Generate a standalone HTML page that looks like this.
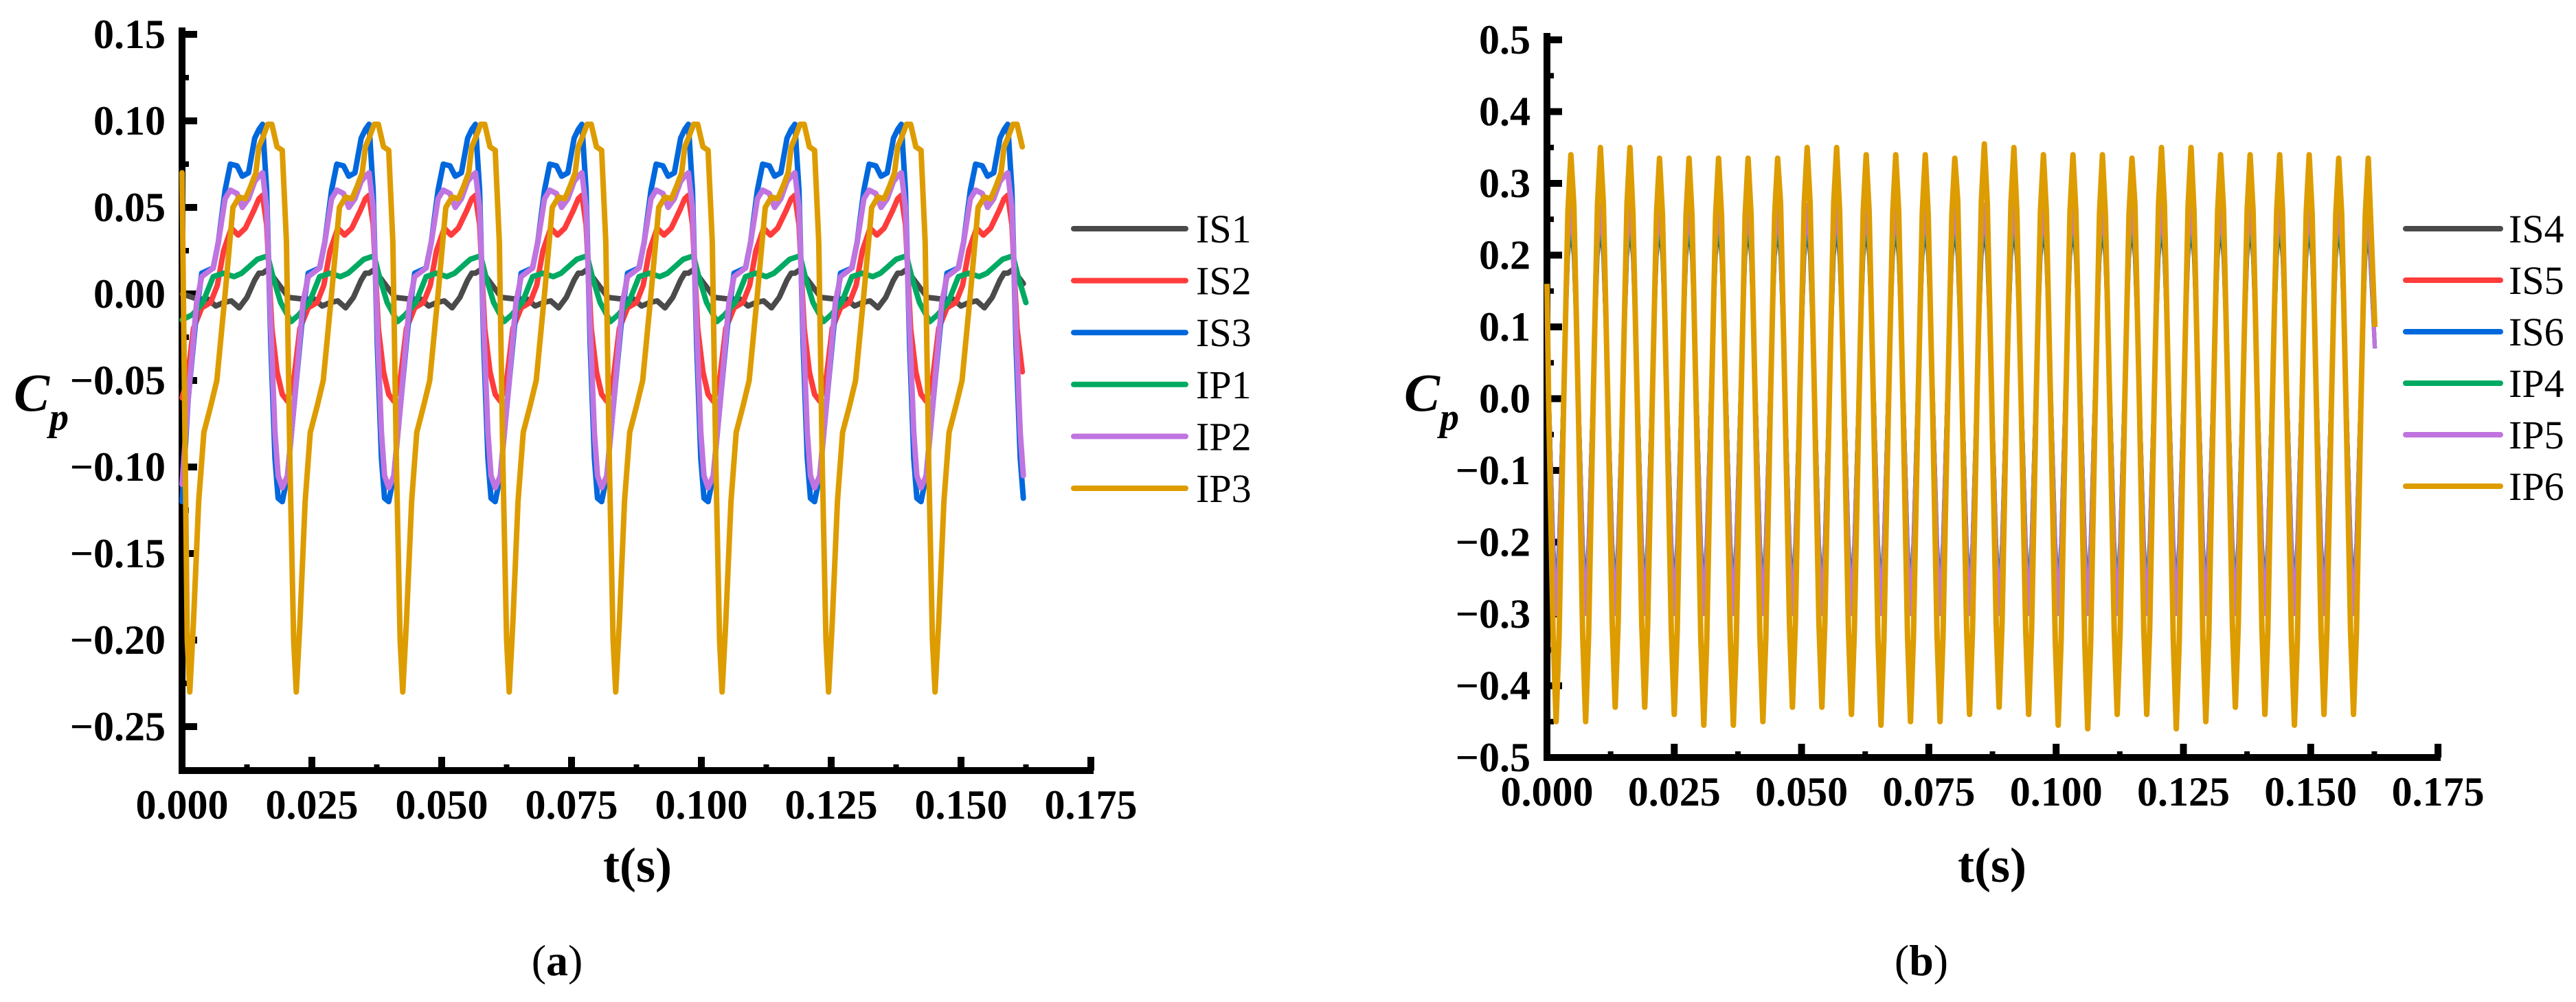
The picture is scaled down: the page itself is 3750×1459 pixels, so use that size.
<!DOCTYPE html>
<html><head><meta charset="utf-8"><style>
html,body{margin:0;padding:0;background:#fff;}
svg{display:block;}
text{font-family:"Liberation Serif",serif;fill:#000;}
.tk{font-weight:bold;font-size:60px;}
.lg{font-size:58px;}
</style></head><body>
<svg id="fig" width="3750" height="1459" viewBox="0 0 3750 1459" xmlns="http://www.w3.org/2000/svg">
<g id="panelA"></g>
<g id="panelB"></g>
<text x="20" y="598" font-size="78" font-weight="bold" font-style="italic">C<tspan font-size="56" dy="28">p</tspan></text>
<text x="2044" y="598" font-size="78" font-weight="bold" font-style="italic">C<tspan font-size="56" dy="28">p</tspan></text>
<text x="928" y="1284" font-size="72" font-weight="bold" text-anchor="middle">t(s)</text>
<text x="2900" y="1284" font-size="72" font-weight="bold" text-anchor="middle">t(s)</text>
<text x="811" y="1420" font-size="64" text-anchor="middle">(<tspan font-weight="bold">a</tspan>)</text>
<text x="2797" y="1420" font-size="64" text-anchor="middle">(<tspan font-weight="bold">b</tspan>)</text>
</svg>
<script>
// ---------- Panel (a) data ----------
const leftYTicks = [0.15,0.10,0.05,0.00,-0.05,-0.10,-0.15,-0.20,-0.25];
const leftYLabels = ["0.15","0.10","0.05","0.00","\u22120.05","\u22120.10","\u22120.15","\u22120.20","\u22120.25"];
const xTicks = [0,0.025,0.05,0.075,0.1,0.125,0.15,0.175];
const xLabels = ["0.000","0.025","0.050","0.075","0.100","0.125","0.150","0.175"];
const leftNames = ["IS1","IS2","IS3","IP1","IP2","IP3"];
const leftColors = ["#4a4a4a","#ff3c3c","#0068dc","#00aa62","#c074e0","#dd9c00"];
// cycle anchor times (IS3 peak) in seconds
const leftCycleAnchors = [-0.005,0.0155,0.036,0.0565,0.077,0.0975,0.118,0.1385,0.159];
const leftEnd = 0.1625;
const leftStart = [0.0,-0.06,-0.12,-0.015,-0.11,0.07];
const is1Phase = [0,0.001,0.003,0.005,0.008,0.01,0.0115,0.013,0.0145,0.016,0.0175,0.019,0.0198];
const is1Vals  = [0.012,0.014,0.006,-0.002,-0.003,-0.003,-0.007,-0.005,-0.004,-0.008,-0.002,0.008,0.012];
const is2Phase = [0,0.0008,0.0018,0.0028,0.0038,0.0048,0.006,0.0072,0.0088,0.0105,0.0118,0.013,0.0145,0.0158,0.0172,0.0188,0.0198];
const is2Vals  = [0.057,0.04,-0.02,-0.045,-0.058,-0.062,-0.05,-0.02,-0.008,-0.005,0.005,0.025,0.038,0.034,0.038,0.048,0.055];
const is3Phase = [0,0.0008,0.0016,0.0024,0.003,0.0038,0.0048,0.0062,0.0078,0.0088,0.011,0.012,0.0133,0.0143,0.0156,0.0166,0.0178,0.019,0.0198];
const is3Vals  = [0.098,0.06,-0.03,-0.095,-0.118,-0.12,-0.105,-0.06,-0.01,0.012,0.015,0.03,0.06,0.075,0.074,0.068,0.07,0.09,0.095];
const ip1Phase = [0,0.001,0.002,0.0035,0.0055,0.007,0.009,0.011,0.013,0.015,0.0165,0.018,0.0195];
const ip1Vals  = [0.021,0.022,0.01,-0.005,-0.016,-0.012,-0.005,0.01,0.012,0.01,0.012,0.016,0.02];
const ip2Phase = [0,0.0008,0.0016,0.0024,0.003,0.0038,0.0048,0.0062,0.0078,0.0088,0.011,0.012,0.0133,0.0143,0.0156,0.0166,0.0178,0.019,0.0198];
const ip2Vals  = [0.07,0.05,-0.02,-0.08,-0.105,-0.112,-0.105,-0.06,-0.005,0.01,0.015,0.03,0.055,0.06,0.058,0.05,0.055,0.065,0.068];
const ip3Phase = [0,0.001,0.0018,0.0028,0.0038,0.0046,0.0053,0.006,0.0065,0.0072,0.0082,0.0092,0.0105,0.0117,0.0133,0.0148,0.016,0.0172,0.0182,0.0192,0.0198];
const ip3Vals  = [0.09,0.098,0.098,0.085,0.083,0.03,-0.1,-0.2,-0.23,-0.19,-0.12,-0.08,-0.065,-0.05,0.0,0.05,0.056,0.055,0.062,0.07,0.085];

// ---------- Panel (b) data ----------
const rightYTicks = [0.5,0.4,0.3,0.2,0.1,0.0,-0.1,-0.2,-0.3,-0.4,-0.5];
const rightYLabels = ["0.5","0.4","0.3","0.2","0.1","0.0","\u22120.1","\u22120.2","\u22120.3","\u22120.4","\u22120.5"];
const rightNames = ["IS4","IS5","IS6","IP4","IP5","IP6"];
const rightColors = ["#4a4a4a","#ff3c3c","#0068dc","#00aa62","#c074e0","#dd9c00"];
const rightFirstPeak = 0.0047;
const rightPeriod = 0.0058;
const rightEnd = 0.1626;
const rightStart = [0.1,0.12,0.14,0.1,0.12,0.16];
const ip6Peaks = [0.34,0.35,0.35,0.335,0.335,0.335,0.335,0.335,0.35,0.35,0.34,0.34,0.34,0.335,0.355,0.35,0.34,0.34,0.34,0.335,0.35,0.35,0.34,0.34,0.34,0.34,0.335,0.335];
const ip6Troughs = [-0.45,-0.45,-0.43,-0.43,-0.44,-0.455,-0.455,-0.45,-0.43,-0.43,-0.44,-0.455,-0.45,-0.45,-0.44,-0.43,-0.44,-0.455,-0.46,-0.44,-0.44,-0.46,-0.45,-0.43,-0.44,-0.455,-0.44,-0.44];
const innerPeakLevels = [0.25,0.26,0.27,0.26,0.27];
const innerTroughLevels = [-0.28,-0.29,-0.30,-0.29,-0.30];
const waveShapePhase = [0,0.1,0.25,0.4,0.5,0.6,0.75,0.9];
const waveShapeNorm = [1,0.8,0.1,-0.7,-1,-0.7,0.1,0.8];

const NS="http://www.w3.org/2000/svg";
function mk(tag,attrs,parent){const e=document.createElementNS(NS,tag);for(const k in attrs)e.setAttribute(k,attrs[k]);parent.appendChild(e);return e;}

function drawAxes(g,x0,xEnd,yTop,yBot,xs,ys,yT,yL,tag){
  const ax=mk('path',{d:`M${x0},${yTop} V${yBot} H${xEnd}`,stroke:'#000','stroke-width':10,fill:'none'},g);
  
  
  yT.forEach((v,i)=>{
    const y=ys(v);
    const t=mk('line',{x1:x0,x2:x0+22,y1:y,y2:y,stroke:'#000','stroke-width':10},g);
    
    
    if(i<yT.length-1){const ym=ys((v+yT[i+1])/2);mk('line',{x1:x0,x2:x0+10,y1:ym,y2:ym,stroke:'#000','stroke-width':8},g);}
    const tx=mk('text',{x:x0-24,y:y+20,'text-anchor':'end',class:'tk'},g);
    tx.textContent=yL[i];
    
    
  });
  xTicks.forEach((v,i)=>{
    const x=xs(v);
    const t=mk('line',{x1:x,x2:x,y1:yBot,y2:yBot-20,stroke:'#000','stroke-width':10},g);
    
    
    if(i<xTicks.length-1){const xm=xs((v+xTicks[i+1])/2);mk('line',{x1:xm,x2:xm,y1:yBot,y2:yBot-9,stroke:'#000','stroke-width':8},g);}
    const tx=mk('text',{x:x,y:yBot+70,'text-anchor':'middle',class:'tk'},g);
    tx.textContent=xLabels[i];
    
    
  });
}
function drawLegend(g,names,colors,x1,x2,tx,y0,dy,tag){
  names.forEach((n,i)=>{
    const y=y0+i*dy;
    const l=mk('line',{x1:x1,x2:x2,y1:y,y2:y,stroke:colors[i],'stroke-width':8,'stroke-linecap':'round'},g);
    
    
    const t=mk('text',{x:tx,y:y+20,class:'lg'},g);
    t.textContent=n;
    
    
  });
}

// ---- Panel a ----
const gA=document.getElementById('panelA');
const xA=t=>265+t*7560, yA=v=>50+(0.15-v)*2520;
drawAxes(gA,265,1592,40,1122,xA,yA,leftYTicks,leftYLabels,'a');
const leftPhases=[is1Phase,is2Phase,is3Phase,ip1Phase,ip2Phase,ip3Phase];
const leftVals=[is1Vals,is2Vals,is3Vals,ip1Vals,ip2Vals,ip3Vals];
leftNames.forEach((n,si)=>{
  const pts=[[0,leftStart[si]]];
  leftCycleAnchors.forEach(a=>{
    leftPhases[si].forEach((p,j)=>{const t=a+p;if(t>0.0006&&t<=leftEnd)pts.push([t,leftVals[si][j]]);});
  });
  const d=pts.map((p,i)=>(i?'L':'M')+xA(p[0]).toFixed(1)+','+yA(p[1]).toFixed(1)).join(' ');
  const path=mk('path',{d:d,fill:'none',stroke:leftColors[si],'stroke-width':8,'stroke-linejoin':'round','stroke-linecap':'round'},gA);
  
  
});
drawLegend(gA,leftNames,leftColors,1563,1726,1741,333,75.6,'a');

// ---- Panel b ----
const gB=document.getElementById('panelB');
const xB=t=>2252+t*7412, yB=v=>58+(0.5-v)*1045;
drawAxes(gB,2252,3553,48,1103,xB,yB,rightYTicks,rightYLabels,'b');
rightNames.forEach((n,si)=>{
  const pts=[[0,rightStart[si]]];
  ip6Peaks.forEach((pk,k)=>{
    const P = si===5 ? pk : innerPeakLevels[si];
    const T = si===5 ? ip6Troughs[k] : innerTroughLevels[si];
    const mid=(P+T)/2, amp=(P-T)/2;
    waveShapePhase.forEach((ph,j)=>{
      const tt=rightFirstPeak+(k)*rightPeriod+(ph-1)*rightPeriod;
      if(j>0 && tt>0.0003 && tt<=rightEnd) pts.push([tt,mid+amp*waveShapeNorm[j]]);
    });
    const tp=rightFirstPeak+k*rightPeriod;
    if(tp<=rightEnd) pts.push([tp,P]);
  });
  pts.push([rightEnd, si===5?0.1:0.07]);
  const d=pts.map((p,i)=>(i?'L':'M')+xB(p[0]).toFixed(1)+','+yB(p[1]).toFixed(1)).join(' ');
  const path=mk('path',{d:d,fill:'none',stroke:rightColors[si],'stroke-width':si===5?8:6,'stroke-linejoin':'round'},gB);
  
  
});
drawLegend(gB,rightNames,rightColors,3502,3640,3652,333,75,'b');
</script>
</body></html>
